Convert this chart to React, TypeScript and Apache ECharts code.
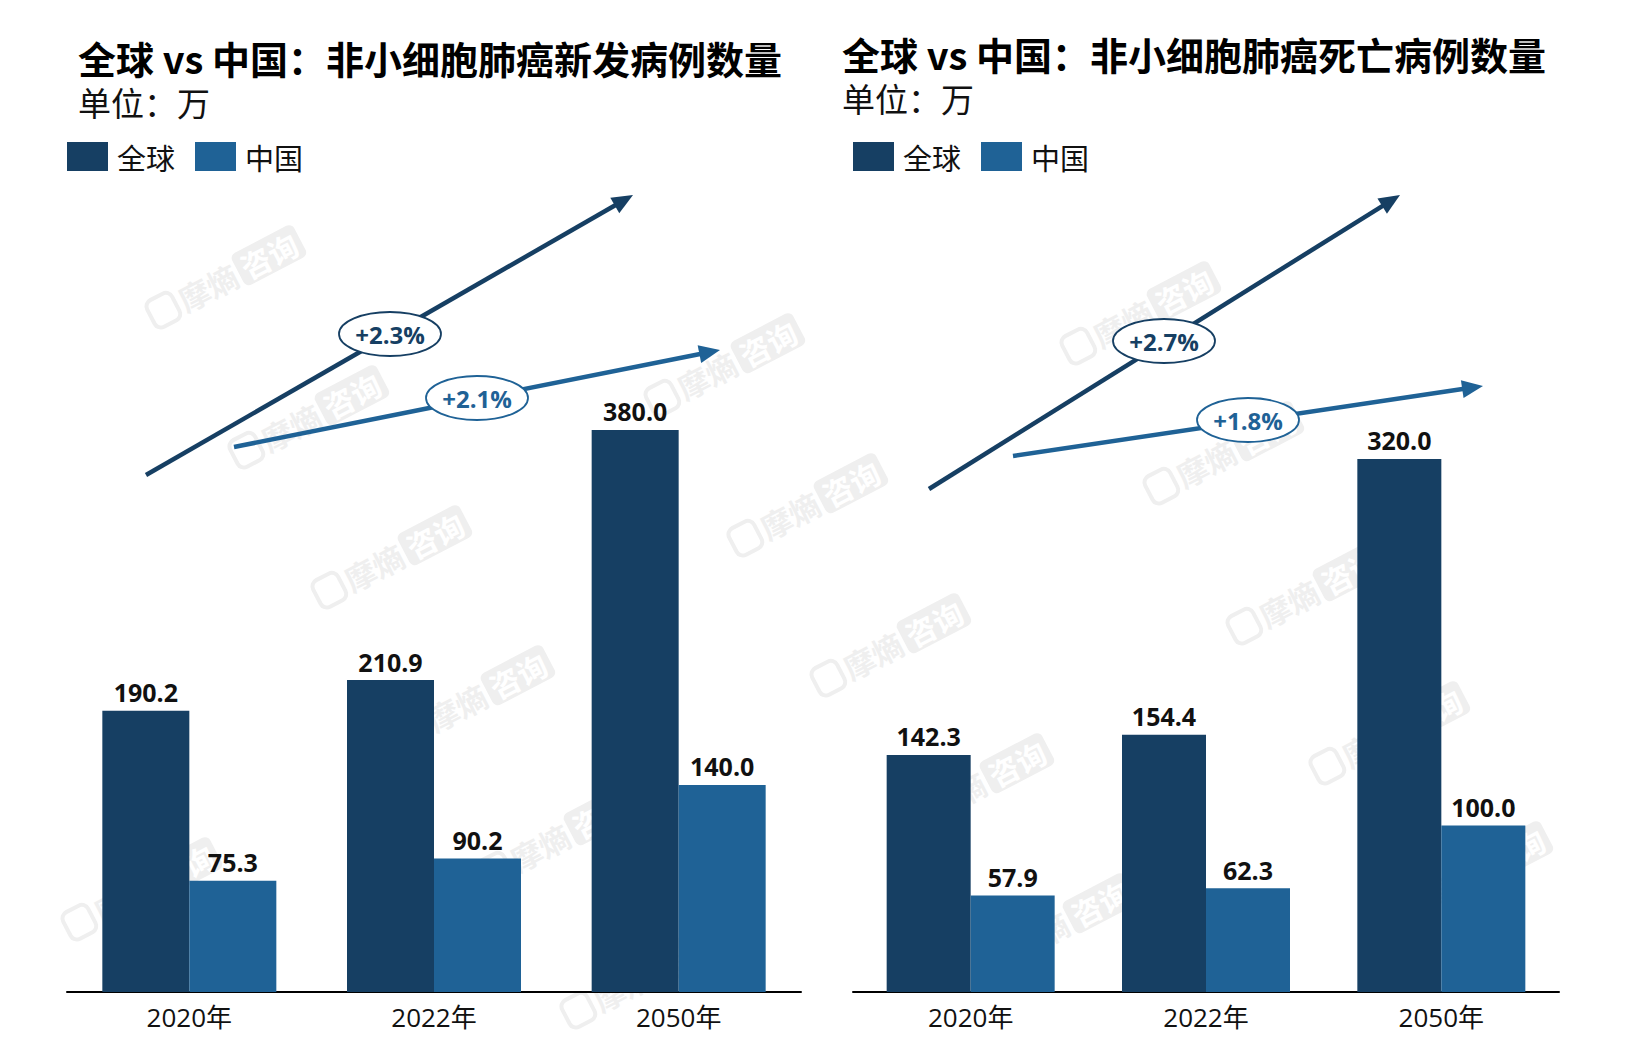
import React, { useEffect, useRef } from "react";
import * as echarts from "echarts";

// ---- data ----
const categories = ["2020年", "2022年", "2050年"];
const seriesNames = ["全球", "中国"];
const incidenceGlobal = [190.2, 210.9, 380.0];
const incidenceChina = [75.3, 90.2, 140.0];
const deathGlobal = [142.3, 154.4, 320.0];
const deathChina = [57.9, 62.3, 100.0];
const incidenceGrowth = ["+2.3%", "+2.1%"];
const deathGrowth = ["+2.7%", "+1.8%"];
const titles = [
  "全球 vs 中国：非小细胞肺癌新发病例数量",
  "全球 vs 中国：非小细胞肺癌死亡病例数量",
];
const unitText = "单位：万";

// ---- styles ----
const NAVY = "#163f63";
const BLUE = "#1f6296";
const CJK = '"Noto Sans CJK SC", "Noto Sans", sans-serif';
const NUM = '"Open Sans", "Noto Sans CJK SC", sans-serif';

type Pt = [number, number];

function arrow(from: Pt, to: Pt, color: string, width: number) {
  const dx = to[0] - from[0];
  const dy = to[1] - from[1];
  const len = Math.hypot(dx, dy);
  const ux = dx / len;
  const uy = dy / len;
  const nx = -uy;
  const ny = ux;
  const L = 21;
  const W = 9;
  const bx = to[0] - ux * L;
  const by = to[1] - uy * L;
  return [
    {
      type: "line",
      shape: { x1: from[0], y1: from[1], x2: bx + ux * 2, y2: by + uy * 2 },
      style: { stroke: color, lineWidth: width },
      z: 10,
    },
    {
      type: "polygon",
      shape: {
        points: [
          [to[0], to[1]],
          [bx + nx * W, by + ny * W],
          [bx - nx * W, by - ny * W],
        ],
      },
      style: { fill: color },
      z: 10,
    },
  ];
}

function badge(c: Pt, text: string, color: string) {
  return [
    {
      type: "ellipse",
      shape: { cx: c[0], cy: c[1], rx: 51, ry: 22 },
      style: { fill: "#fff", stroke: color, lineWidth: 1.8 },
      z: 11,
    },
    {
      type: "text",
      x: c[0],
      y: c[1],
      style: {
        text,
        fill: color,
        font: `bold 24px ${NUM}`,
        textAlign: "center",
        textVerticalAlign: "middle",
      },
      z: 12,
    },
  ];
}

// faint brand watermark, tiled diagonally behind the bars
function watermark(x: number, y: number) {
  const fill = "#efefef";
  return {
    type: "group",
    x,
    y,
    rotation: 0.48,
    z: 0,
    silent: true,
    children: [
      {
        type: "rect",
        shape: { x: -88, y: -15, width: 28, height: 30, r: 7 },
        style: { fill: "none", stroke: fill, lineWidth: 4 },
        z: 0,
      },
      {
        type: "text",
        x: -55,
        y: 0,
        style: {
          text: "摩熵",
          fill,
          font: `bold 31px ${CJK}`,
          textVerticalAlign: "middle",
        },
        z: 0,
      },
      {
        type: "rect",
        shape: { x: 10, y: -18, width: 70, height: 36, r: 6 },
        style: { fill },
        z: 0,
      },
      {
        type: "text",
        x: 45,
        y: 0,
        style: {
          text: "咨询",
          fill: "#ffffff",
          font: `bold 30px ${CJK}`,
          textAlign: "center",
          textVerticalAlign: "middle",
        },
        z: 1,
      },
    ],
  };
}

// title and legend blocks stay free of watermark tiles
const keepClear: [number, number, number, number][] = [
  [60, 20, 800, 180],
  [840, 20, 1560, 180],
];

function buildWatermarks() {
  const out: any[] = [];
  for (let i = -2; i <= 4; i++) {
    for (let j = -2; j <= 7; j++) {
      const x = 229 + 416 * i + 83 * j;
      const y = 276 - 52 * i + 140 * j;
      const x0 = x - 80, x1 = x + 80, y0 = y - 45, y1 = y + 45;
      if (x0 < 0 || x1 > 1632 || y0 < 0 || y1 > 1054) continue;
      const hit = keepClear.some(
        ([a, b, c, d]) => x0 < c && x1 > a && y0 < d && y1 > b
      );
      if (!hit) out.push(watermark(x, y));
    }
  }
  return out;
}

const barLabel = {
  show: true,
  position: "top",
  distance: 6,
  fontSize: 25,
  fontWeight: "bold",
  fontFamily: NUM,
  color: "#111",
  formatter: (p: any) => Number(p.value).toFixed(1),
};

function xAxis(gridIndex: number) {
  return {
    type: "category",
    gridIndex,
    data: categories,
    axisLine: { lineStyle: { color: "#000", width: 2 } },
    axisTick: { show: false },
    axisLabel: { fontSize: 26, fontFamily: NUM, color: "#111", margin: 12 },
  };
}

function yAxis(gridIndex: number) {
  return {
    type: "value",
    gridIndex,
    min: 0,
    max: 400,
    show: false,
    splitLine: { show: false },
  };
}

function legend(left: number) {
  return {
    data: seriesNames,
    left,
    top: 142,
    padding: 0,
    icon: "rect",
    itemWidth: 41,
    itemHeight: 29,
    itemGap: 20,
    selectedMode: false,
    textStyle: { fontSize: 29, fontFamily: CJK, color: "#111", padding: [0, 0, 0, 4] },
  };
}

function titleTexts(x: number, y: number, title: string) {
  return [
    {
      type: "text",
      x,
      y,
      style: {
        text: title,
        fill: "#000",
        font: `bold 38px ${CJK}`,
        textVerticalAlign: "middle",
      },
      z: 5,
    },
    {
      type: "text",
      x,
      y: y + 45,
      style: {
        text: unitText,
        fill: "#111",
        font: `33px ${CJK}`,
        textVerticalAlign: "middle",
      },
      z: 5,
    },
  ];
}

export default function App() {
  const ref = useRef<HTMLDivElement>(null);

  useEffect(() => {
    if (!ref.current) return;
    const chart = echarts.init(ref.current, null, { renderer: "svg" });

    const option: any = {
      animation: false,
      backgroundColor: "#fff",
      color: [NAVY, BLUE],
      legend: [legend(67), legend(853)],
      grid: [
        { left: 67, width: 734, top: 400.4, height: 591.6 },
        { left: 853, width: 706, top: 325.6, height: 666.4 },
      ],
      xAxis: [xAxis(0), xAxis(1)],
      yAxis: [yAxis(0), yAxis(1)],
      series: [
        {
          name: seriesNames[0],
          type: "bar",
          xAxisIndex: 0,
          yAxisIndex: 0,
          data: incidenceGlobal,
          barWidth: 87,
          barGap: "0%",
          z: 3,
          itemStyle: { color: NAVY },
          label: barLabel,
        },
        {
          name: seriesNames[1],
          type: "bar",
          xAxisIndex: 0,
          yAxisIndex: 0,
          data: incidenceChina,
          barWidth: 87,
          barGap: "0%",
          z: 3,
          itemStyle: { color: BLUE },
          label: barLabel,
        },
        {
          name: seriesNames[0],
          type: "bar",
          xAxisIndex: 1,
          yAxisIndex: 1,
          data: deathGlobal,
          barWidth: 84,
          barGap: "0%",
          z: 3,
          itemStyle: { color: NAVY },
          label: barLabel,
        },
        {
          name: seriesNames[1],
          type: "bar",
          xAxisIndex: 1,
          yAxisIndex: 1,
          data: deathChina,
          barWidth: 84,
          barGap: "0%",
          z: 3,
          itemStyle: { color: BLUE },
          label: barLabel,
        },
      ],
      graphic: [
        ...buildWatermarks(),
        ...titleTexts(78, 57, titles[0]),
        ...titleTexts(842, 53, titles[1]),
        // growth trend arrows, new cases
        ...arrow([146, 475], [633, 195], NAVY, 4.5),
        ...arrow([234, 447], [720, 350], BLUE, 4.5),
        ...badge([390, 334], incidenceGrowth[0], NAVY),
        ...badge([477, 398], incidenceGrowth[1], BLUE),
        // growth trend arrows, deaths
        ...arrow([929, 489], [1400, 195], NAVY, 4.5),
        ...arrow([1013, 456], [1483, 386], BLUE, 4.5),
        ...badge([1164, 341], deathGrowth[0], NAVY),
        ...badge([1248, 420], deathGrowth[1], BLUE),
      ],
    };

    chart.setOption(option);
    return () => chart.dispose();
  }, []);

  return (
    <div
      ref={ref}
      style={{ position: "fixed", left: 0, top: 0, width: 1632, height: 1054, background: "#fff" }}
    />
  );
}
